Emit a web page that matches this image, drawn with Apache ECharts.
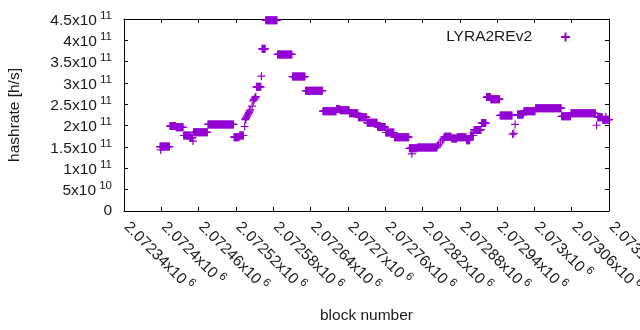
<!DOCTYPE html>
<html lang="en">
<head>
<meta charset="UTF-8">
<title>hashrate</title>
<script src="https://cdn.jsdelivr.net/npm/echarts@6/dist/echarts.min.js"></script>
</head>
<body style="margin:0;background:#fff;">
<div id="chart" style="width:640px;height:330px;"></div>
<script>
// runs of consecutive blocks with the same hashrate: [first block, last block, h/s]
const runs = [
	[2072398, 2072413, 1.51e11],
	[2072414, 2072423, 1.99e11],
	[2072424, 2072435, 1.96e11],
	[2072436, 2072445, 1.77e11],
	[2072446, 2072450, 1.72e11],
	[2072452, 2072474, 1.845e11],
	[2072475, 2072516, 2.03e11],
	[2072517, 2072525, 1.73e11],
	[2072526, 2072532, 1.77e11],
	[2072553, 2072560, 2.91e11],
	[2072562, 2072567, 3.80e11],
	[2072568, 2072586, 4.47e11],
	[2072587, 2072610, 3.67e11],
	[2072611, 2072631, 3.15e11],
	[2072632, 2072659, 2.82e11],
	[2072660, 2072681, 2.34e11],
	[2072682, 2072687, 2.39e11],
	[2072688, 2072702, 2.36e11],
	[2072703, 2072716, 2.29e11],
	[2072717, 2072730, 2.20e11],
	[2072731, 2072747, 2.07e11],
	[2072748, 2072760, 1.97e11],
	[2072761, 2072774, 1.84e11],
	[2072775, 2072798, 1.73e11],
	[2072799, 2072811, 1.47e11],
	[2072812, 2072843, 1.49e11],
	[2072855, 2072866, 1.74e11],
	[2072867, 2072875, 1.70e11],
	[2072876, 2072890, 1.73e11],
	[2072891, 2072896, 1.66e11],
	[2072897, 2072902, 1.77e11],
	[2072903, 2072914, 1.90e11],
	[2072915, 2072922, 2.06e11],
	[2072923, 2072929, 2.67e11],
	[2072930, 2072944, 2.62e11],
	[2072945, 2072964, 2.24e11],
	[2072973, 2072982, 2.26e11],
	[2072983, 2073001, 2.34e11],
	[2073002, 2073043, 2.41e11],
	[2073044, 2073058, 2.22e11],
	[2073059, 2073098, 2.29e11],
	[2073102, 2073109, 2.20e11],
	[2073110, 2073120, 2.14e11]
];

// single blocks (ramps and outliers): [block, h/s]
const singles = [
	[2072399, 1.43e11],
	[2072451, 1.64e11],
	[2072534, 1.98e11],
	[2072535, 2.14e11],
	[2072536, 2.17e11],
	[2072537, 2.20e11],
	[2072538, 2.23e11],
	[2072539, 2.25e11],
	[2072540, 2.28e11],
	[2072541, 2.31e11],
	[2072542, 2.34e11],
	[2072543, 2.37e11],
	[2072546, 2.46e11],
	[2072548, 2.58e11],
	[2072549, 2.61e11],
	[2072550, 2.63e11],
	[2072551, 2.66e11],
	[2072552, 2.68e11],
	[2072561, 3.16e11],
	[2072803, 1.34e11],
	[2072844, 1.53e11],
	[2072846, 1.55e11],
	[2072849, 1.60e11],
	[2072852, 1.66e11],
	[2072854, 1.70e11],
	[2072965, 1.80e11],
	[2072967, 1.82e11],
	[2072969, 2.03e11],
	[2073100, 2.01e11],
	[2073115, 2.21e11]
];

const seriesName = 'LYRA2REv2';
const xRange = [2072340, 2073120, 60];
const yRange = [0, 4.5e11, 5e10];

let points = [];
runs.forEach(function (r) {
	for (let b = r[0]; b <= r[1]; b++) points.push([b, r[2]]);
});
singles.forEach(function (p) { points.push(p); });

const font = "'Liberation Sans', Arial, sans-serif";
const ink = '#1a1a1a';
const purple = '#9400d3';

// gnuplot style "2.07234x10^6"
function sci(v) {
	if (v === 0) return '{m|0}';
	let e = Math.floor(Math.log10(Math.abs(v)) + 1e-9);
	let m = parseFloat((v / Math.pow(10, e)).toFixed(6));
	return '{m|' + m + 'x10}{s| ' + e + '}';
}
const rich = {
	m: { fontSize: 15.5, fontFamily: font, color: ink, verticalAlign: 'bottom' },
	s: { fontSize: 11.5, fontFamily: font, color: ink, verticalAlign: 'bottom', padding: [0, 0, 7, 0] }
};
// x labels start a little further from the tick, along the text
const richX = {
	m: Object.assign({}, rich.m, { padding: [0, 0, 0, 5] }),
	s: rich.s
};

let myChart = echarts.init(document.getElementById('chart'), null, { renderer: 'canvas' });
let border = { show: true, onZero: false, lineStyle: { color: '#000', width: 1 } };
let tick = { show: true, inside: true, length: 4, lineStyle: { color: '#000' } };

myChart.setOption({
	animation: false,
	backgroundColor: '#fff',
	grid: { left: 124, right: 31, top: 19, bottom: 119, outerBoundsMode: 'none', containLabel: false },
	legend: {
		data: [seriesName],
		right: 64,
		top: 24,
		align: 'right',
		itemWidth: 9,
		itemHeight: 9,
		textStyle: { fontSize: 15.5, fontFamily: font, color: ink, padding: [0, 24, 0, 0] }
	},
	xAxis: [{
		type: 'value',
		min: xRange[0], max: xRange[1], interval: xRange[2],
		name: 'block number',
		nameLocation: 'middle',
		nameGap: 97,
		nameTextStyle: { fontSize: 15.5, fontFamily: font, color: ink },
		axisLine: border,
		axisTick: tick,
		splitLine: { show: false },
		axisLabel: {
			rotate: -45,
			margin: 9,
			align: 'left',
			verticalAlign: 'middle',
			showMinLabel: true,
			showMaxLabel: true,
			hideOverlap: false,
			formatter: sci,
			rich: richX
		}
	}, {
		type: 'value', position: 'top',
		min: xRange[0], max: xRange[1], interval: xRange[2],
		axisLine: border, axisTick: tick,
		axisLabel: { show: false }, splitLine: { show: false }
	}],
	yAxis: [{
		type: 'value',
		min: yRange[0], max: yRange[1], interval: yRange[2],
		name: 'hashrate [h/s]',
		nameLocation: 'middle',
		nameGap: 101,
		nameTextStyle: { fontSize: 15.5, fontFamily: font, color: ink },
		axisLine: border,
		axisTick: tick,
		splitLine: { show: false },
		axisLabel: { margin: 12, formatter: sci, rich: rich }
	}, {
		type: 'value', position: 'right',
		min: yRange[0], max: yRange[1], interval: yRange[2],
		axisLine: border, axisTick: tick,
		axisLabel: { show: false }, splitLine: { show: false }
	}],
	series: [{
		name: seriesName,
		type: 'scatter',
		symbol: 'path://M0,5L10,5M5,0L5,10',
		symbolSize: 8,
		itemStyle: { color: purple, borderColor: purple, borderWidth: 1.2, opacity: 1 },
		data: points
	}]
});
</script>
</body>
</html>
